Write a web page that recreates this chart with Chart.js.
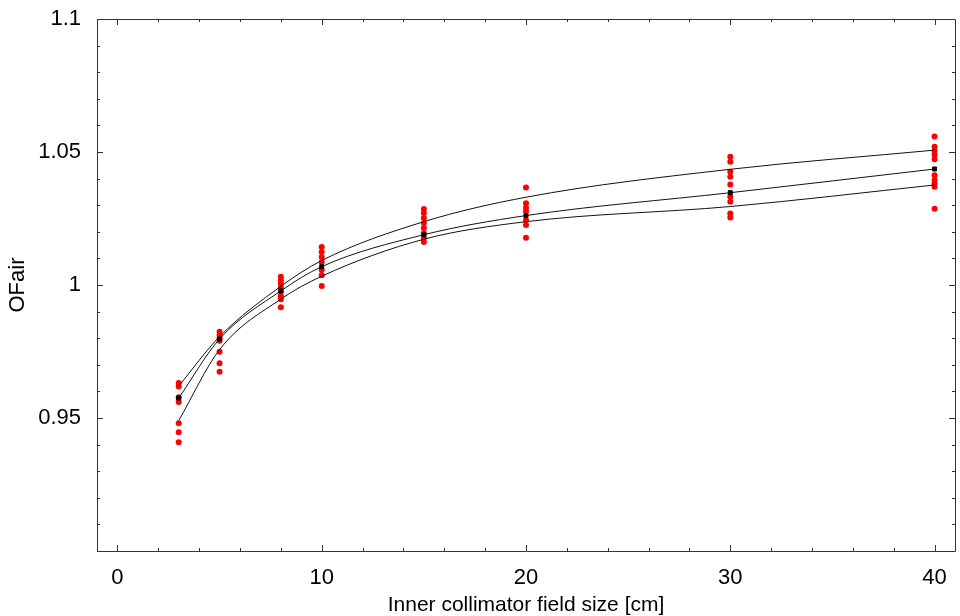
<!DOCTYPE html>
<html>
<head>
<meta charset="utf-8">
<script src="https://cdn.jsdelivr.net/npm/chart.js@4.4.1/dist/chart.umd.min.js"></script>
<style>
  html, body { margin: 0; padding: 0; background: #fff; }
  #wrap { width: 960px; height: 616px; }
</style>
</head>
<body>
<div id="wrap"><canvas id="ofChart"></canvas></div>
<script>
// field sizes (cm)
const fieldSizes = [3, 5, 8, 10, 15, 20, 30, 40];

// fitted curves
const upperCurve = [0.962, 0.9806, 0.9995, 1.0092, 1.0238, 1.0330, 1.0435, 1.0507];
const meanCurve = [0.9575, 0.9797, 0.9978, 1.0069, 1.0189, 1.0261, 1.0347, 1.0436];
const lowerCurve = [0.949, 0.9757, 0.9947, 1.0033, 1.0172, 1.0238, 1.0295, 1.0376];

// individual measurements per field size
const measured = [
  [0.9632, 0.9618, 0.9578, 0.9560, 0.9480, 0.9446, 0.9409],
  [0.9824, 0.9812, 0.9800, 0.9790, 0.9749, 0.9706, 0.9674],
  [1.0031, 1.0018, 1.0005, 0.9990, 0.9975, 0.9960, 0.9946, 0.9916],
  [1.0143, 1.0124, 1.0105, 1.0086, 1.0056, 1.0037, 0.9996],
  [1.0286, 1.0271, 1.0252, 1.0233, 1.0214, 1.0195, 1.0177, 1.0162],
  [1.0367, 1.0307, 1.0290, 1.0276, 1.0244, 1.0226, 1.0178],
  [1.0482, 1.0463, 1.0426, 1.0407, 1.0378, 1.0332, 1.0313, 1.0269, 1.0254],
  [1.0558, 1.0520, 1.0505, 1.0490, 1.0473, 1.0413, 1.0395, 1.0382, 1.0369, 1.0287]
];

const xTicks = [0, 10, 20, 30, 40];
const yTicks = [0.95, 1, 1.05, 1.1];

const toPoints = (ys) => fieldSizes.map((x, i) => ({ x: x, y: ys[i] }));

const measuredPoints = [];
measured.forEach((group, i) => {
  group.forEach((v) => measuredPoints.push({ x: fieldSizes[i], y: v }));
});

// frame with inward ticks on all four sides
const framePlugin = {
  id: "frame",
  afterDraw(chart) {
    const { ctx, chartArea, scales } = chart;
    const { left, right, top, bottom } = chartArea;
    const x = scales.x;
    const y = scales.y;
    ctx.save();
    ctx.strokeStyle = "#333";
    ctx.lineWidth = 1;
    ctx.beginPath();
    ctx.rect(Math.round(left) + 0.5, Math.round(top) + 0.5,
      Math.round(right - left), Math.round(bottom - top));
    for (let v = 0; v <= 40; v += 2) {
      const px = Math.round(x.getPixelForValue(v)) + 0.5;
      const len = v % 10 === 0 ? 6 : 3;
      ctx.moveTo(px, bottom);
      ctx.lineTo(px, bottom - len);
      ctx.moveTo(px, top);
      ctx.lineTo(px, top + len);
    }
    for (let k = 90; k <= 110; k++) {
      const py = Math.round(y.getPixelForValue(k / 100)) + 0.5;
      const len = k % 5 === 0 ? 6 : 3;
      ctx.moveTo(left, py);
      ctx.lineTo(left + len, py);
      ctx.moveTo(right, py);
      ctx.lineTo(right - len, py);
    }
    ctx.stroke();
    ctx.restore();
  },
};

const curveStyle = {
  showLine: true,
  borderColor: "#111",
  borderWidth: 1,
  pointRadius: 0,
  cubicInterpolationMode: "monotone",
};

const labelFont = { family: "'Liberation Sans', Arial", size: 22 };

const ctx = document.getElementById("ofChart").getContext("2d");
new Chart(ctx, {
  type: "scatter",
  data: {
    datasets: [
      {
        label: "Mean",
        data: toPoints(meanCurve),
        backgroundColor: "#000",
        borderColor: "#000",
        pointStyle: "rect",
        pointRadius: 2.8,
        showLine: false,
      },
      Object.assign({ label: "Upper", data: toPoints(upperCurve) }, curveStyle),
      Object.assign({ label: "Middle", data: toPoints(meanCurve) }, curveStyle),
      Object.assign({ label: "Lower", data: toPoints(lowerCurve) }, curveStyle),
      {
        label: "Measured",
        data: measuredPoints,
        backgroundColor: "#ff0000",
        borderColor: "#ff0000",
        pointRadius: 3,
        borderWidth: 0,
      },
    ],
  },
  options: {
    responsive: true,
    maintainAspectRatio: false,
    animation: false,
    layout: { padding: { left: 0, top: 19, right: 3, bottom: 0 } },
    plugins: {
      legend: { display: false },
      tooltip: { enabled: false },
    },
    scales: {
      x: {
        type: "linear",
        min: -1,
        max: 41,
        grid: { display: false },
        border: { display: false },
        afterBuildTicks: (scale) => {
          scale.ticks = xTicks.map((v) => ({ value: v }));
        },
        afterFit: (scale) => {
          scale.height = 65;
          scale.paddingLeft = 0;
          scale.paddingRight = 0;
        },
        ticks: {
          color: "#000",
          padding: 6,
          maxRotation: 0,
          font: labelFont,
          callback: (v) => String(v),
        },
        title: {
          display: true,
          text: "Inner collimator field size [cm]",
          color: "#000",
          font: { family: "'Liberation Sans', Arial", size: 21, lineHeight: 1 },
          padding: { top: 0, bottom: 0 },
        },
      },
      y: {
        type: "linear",
        min: 0.9,
        max: 1.1,
        grid: { display: false },
        border: { display: false },
        afterBuildTicks: (scale) => {
          scale.ticks = yTicks.map((v) => ({ value: v }));
        },
        afterFit: (scale) => {
          scale.width = 97;
          scale.paddingTop = 0;
          scale.paddingBottom = 0;
        },
        ticks: {
          color: "#000",
          padding: 8,
          font: labelFont,
          callback: (v) => String(Math.round(v * 100) / 100),
        },
        title: {
          display: true,
          text: "OFair",
          color: "#000",
          font: { family: "'Liberation Sans', Arial", size: 22, lineHeight: 1.2 },
          padding: { top: 5, bottom: 0 },
        },
      },
    },
  },
  plugins: [framePlugin],
});
</script>
</body>
</html>
